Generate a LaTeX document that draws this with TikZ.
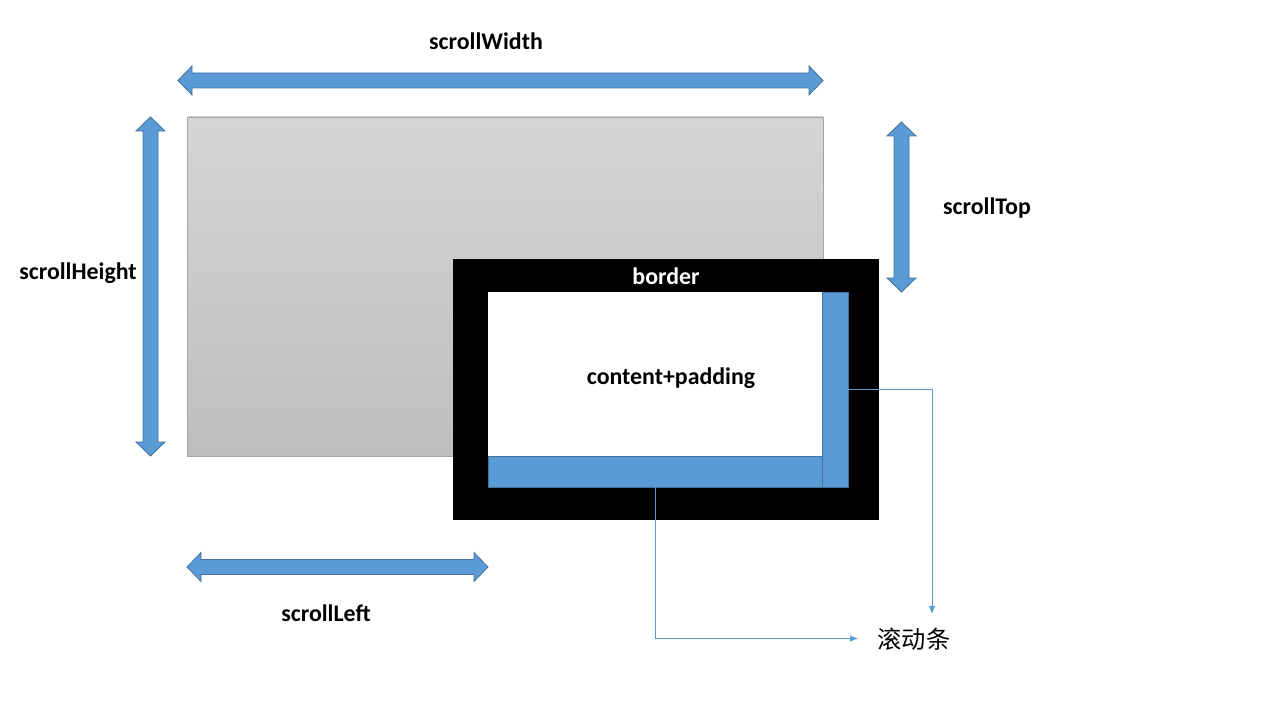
\documentclass[tikz,border=0pt]{standalone}
\usepackage{fontspec}
\setmainfont{Carlito}
\newfontfamily\cjk{Noto Sans CJK SC}
\definecolor{barblue}{HTML}{5B9BD5}
\definecolor{barline}{HTML}{41719C}
\definecolor{gtop}{HTML}{D5D5D5}
\definecolor{gbot}{HTML}{BEBEBE}
\definecolor{gline}{HTML}{A6A6A6}
\newcommand{\dblH}[3]{% x1 x2 y
  \fill[barblue,draw=barline,line width=0.6pt] (#1,#3) -- (#1+14,#3-14.5) -- (#1+14,#3-7.5) -- (#2-14,#3-7.5) -- (#2-14,#3-14.5) -- (#2,#3) -- (#2-14,#3+14.5) -- (#2-14,#3+7.5) -- (#1+14,#3+7.5) -- (#1+14,#3+14.5) -- cycle;}
\newcommand{\dblV}[3]{% y1 y2 x
  \fill[barblue,draw=barline,line width=0.6pt] (#3,#1) -- (#3+14.5,#1+14) -- (#3+7.5,#1+14) -- (#3+7.5,#2-14) -- (#3+14.5,#2-14) -- (#3,#2) -- (#3-14.5,#2-14) -- (#3-7.5,#2-14) -- (#3-7.5,#1+14) -- (#3-14.5,#1+14) -- cycle;}
\usetikzlibrary{arrows.meta}
\tikzset{
  lbl/.style={font=\bfseries\fontsize{17.9}{21}\selectfont, inner sep=0pt},
  box/.style={anchor=north west, inner sep=0pt, outer sep=0pt},
  conn/.style={draw=barblue, line width=0.75pt, -{Latex[length=6pt,width=5pt]}},
}
\begin{document}
\begin{tikzpicture}[x=0.75pt,y=-0.75pt]
\useasboundingbox (0,0) rectangle (1280,720);
% scroll area
\node[box, minimum width=636*0.75pt, minimum height=339*0.75pt, top color=gtop, bottom color=gbot, draw=gline, line width=0.6pt] (area) at (187,117) {};
% border box
\node[box, fill=black, minimum width=426*0.75pt, minimum height=261*0.75pt] (borderbox) at (453,259) {};
\node[box, fill=white, minimum width=360*0.75pt, minimum height=195*0.75pt] (content) at (488,292) {};
\node[box, fill=barblue, draw=barline, line width=0.6pt, minimum width=334*0.75pt, minimum height=31*0.75pt] (hbar) at (488,456) {};
\node[box, fill=barblue, draw=barline, line width=0.6pt, minimum width=26*0.75pt, minimum height=195*0.75pt] (vbar) at (822,292) {};
% double arrows
\dblH{178}{823}{80.5}
\dblV{117}{456}{150.5}
\dblV{122}{292}{901.5}
\dblH{187}{488}{567}
% labels
\node[lbl] (tw) at (486,41.5) {scrollWidth};
\node[lbl] (th) at (78,273) {scrollHeight};
\node[lbl] (tt) at (987,208) {scrollTop};
\node[lbl] (tl) at (326,613) {scrollLeft};
\node[lbl, text=white] (tb) at (666,276) {border};
\node[lbl] (tc) at (671,378) {content+padding};
\node[font=\cjk\fontsize{18.2}{21}\selectfont, inner sep=0pt] (scr) at (914,639) {滚动条};
\coordinate (vend) at (932,614);
\coordinate (hend) at (858,638.5);
% connectors
\draw[conn] (vbar.east) -| (vend);
\draw[conn] (hbar.south) |- (hend);
\end{tikzpicture}
\end{document}
